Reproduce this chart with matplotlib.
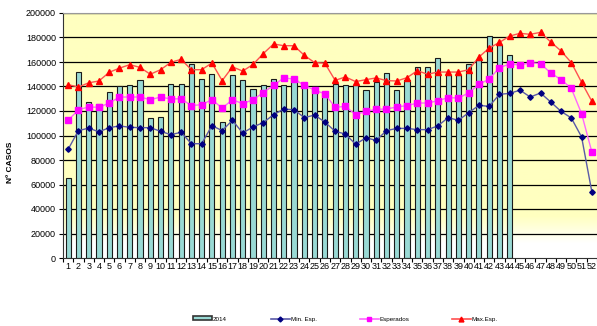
import numpy as np
import matplotlib.pyplot as plt
from matplotlib.colors import LinearSegmentedColormap
from matplotlib.patches import Patch
from matplotlib.lines import Line2D

plt.rcParams['font.family'] = ['Liberation Sans', 'DejaVu Sans']

semanas = list(range(1, 53))

# casos 2014 (hasta la semana 44)
casos_2014 = [65000, 152000, 127000, 125500, 135500, 140000, 141500, 145000, 114500, 115000,
              142000, 142000, 158000, 146500, 150000, 111000, 149000, 145000, 138000, 141500,
              146500, 141500, 145000, 140000, 138500, 134000, 142000, 141500, 141000, 137000,
              144000, 151000, 137000, 145000, 156000, 156000, 163500, 149000, 149000, 158000,
              162000, 181000, 174000, 165500]

min_esp = [88700, 104000, 106000, 103000, 106400, 107800, 106700, 106400, 106400, 103400,
           100700, 102600, 93300, 93300, 108000, 104000, 112400, 102000, 107000, 110500,
           117000, 121600, 121000, 114600, 116700, 111000, 103400, 101200, 92800, 98200,
           96000, 104000, 105800, 105800, 104800, 104800, 107800, 114600, 112400, 118600,
           124600, 123800, 133600, 134400, 137000, 131400, 134700, 127300, 119700, 114300,
           98800, 53900]

esperados = [112400, 121000, 123300, 123000, 126500, 131400, 131400, 131400, 129200, 131400,
             129800, 130000, 124400, 125200, 129200, 122400, 129200, 126000, 129200, 135000,
             141000, 147000, 146000, 141000, 137000, 134000, 123000, 123800, 117000, 119700,
             121400, 121600, 123300, 124400, 126500, 126500, 128400, 130900, 130600, 134700,
             141800, 146000, 155400, 158400, 157500, 159500, 158600, 151000, 145600, 138500,
             117800, 86500]

max_esp = [141500, 139600, 143000, 144500, 151600, 155000, 157800, 155600, 150000, 153700,
           159700, 162200, 153700, 153700, 159200, 144800, 156000, 152600, 158000, 166800,
           174700, 173300, 173300, 165400, 159500, 159000, 145000, 147800, 144000, 145600,
           147000, 144800, 144500, 147200, 152900, 150000, 151800, 151800, 151800, 153700,
           164000, 171400, 176000, 181200, 183400, 182600, 184200, 176300, 169000, 159500,
           143400, 127900]

fig = plt.figure(figsize=(5.97, 3.26), dpi=100)
W, H = 597, 326
ax = fig.add_axes([63 / W, (H - 258) / H, (597 - 63) / W, (258 - 13) / H])

# fondo amarillo que se aclara hacia abajo
yy = np.linspace(0, 200000, 400)
grad = np.clip((yy - 12000) / 22000, 0, 1)[:, None]
cmap = LinearSegmentedColormap.from_list('fondo', ['#FFFFFF', '#FFFFC0'])
ax.imshow(grad, extent=[0.5, 52.5, 0, 200000], origin='lower', aspect='auto',
          cmap=cmap, vmin=0, vmax=1, zorder=0)

for v in range(20000, 200001, 20000):
    ax.axhline(v, color='black', lw=0.9, zorder=1)

x_bar = semanas[:len(casos_2014)]
ax.bar(x_bar, casos_2014, width=0.5, color='#99D9D4', edgecolor='#1a1a1a', lw=0.8, zorder=2)

ax.plot(semanas, min_esp, color='#5A5AA8', lw=1.0, zorder=3)
ax.plot(semanas, min_esp, ls='none', marker='D', ms=2.8, color='#000080', zorder=4)
ax.plot(semanas, esperados, color='#FF66FF', lw=1.0, zorder=3)
ax.plot(semanas, esperados, ls='none', marker='s', ms=4, color='#FF00FF', zorder=4)
ax.plot(semanas, max_esp, color='#FF5050', lw=1.0, zorder=3)
ax.plot(semanas, max_esp, ls='none', marker='^', ms=4, color='#FF0000', zorder=4)

ax.set_xlim(0.5, 52.5)
ax.set_ylim(0, 200000)
ax.set_yticks(range(0, 200001, 20000))
ax.set_yticklabels([str(v) for v in range(0, 200001, 20000)], fontsize=6.5)
ax.set_xticks(semanas)
ax.set_xticklabels([str(s) for s in semanas], fontsize=6.5)
ax.set_xticks(np.arange(0.5, 53, 1), minor=True)
ax.tick_params(axis='x', which='major', length=0, pad=3)
ax.tick_params(axis='x', which='minor', length=3, width=0.8)
ax.tick_params(axis='y', length=3, width=0.8, pad=2)

ax.spines['right'].set_visible(False)
ax.spines['top'].set_color('#999999')
ax.spines['left'].set_color('#333333')
ax.spines['bottom'].set_color('#333333')

ax.set_ylabel('Nº CASOS', fontsize=6, fontweight='bold')
ax.yaxis.set_label_coords(-0.092, 0.39)

handles = [Patch(facecolor='#99D9D4', edgecolor='#333333', lw=1.2),
           Line2D([], [], color='#5A5AA8', marker='D', ms=2.5, mfc='#000080', mec='#000080', lw=1.2),
           Line2D([], [], color='#FF66FF', marker='s', ms=3.5, mfc='#FF00FF', mec='#FF00FF', lw=1.2),
           Line2D([], [], color='#FF5050', marker='^', ms=3.5, mfc='#FF0000', mec='#FF0000', lw=1.2)]
labels = ['2014', 'Min. Esp.', 'Esperados', 'Max.Esp.']
x_leyenda = [193, 271, 360, 452]
for h, lab, xl in zip(handles, labels, x_leyenda):
    leg = fig.legend([h], [lab], loc='center left', bbox_to_anchor=(xl / W, 1 - 319 / H),
                     frameon=False, fontsize=4.5, handlelength=3.0, handleheight=0.6,
                     handletextpad=0.2, borderpad=0, borderaxespad=0)

fig.savefig('out.png', dpi=100)
